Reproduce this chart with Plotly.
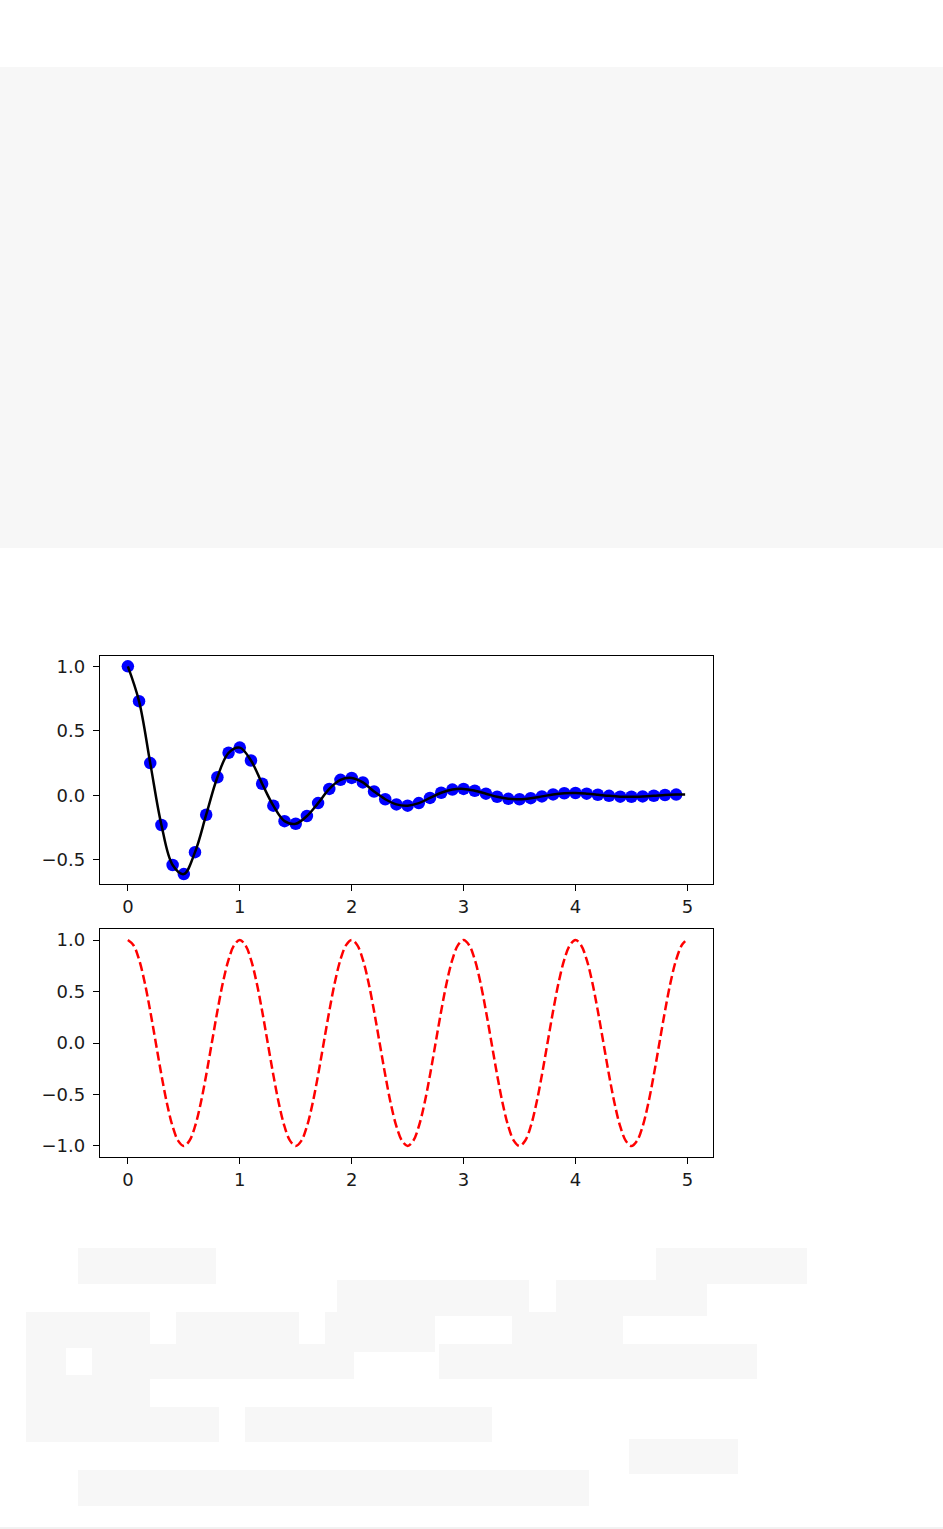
import plotly.graph_objects as go

# damped oscillation, sampled every 0.1 (dots)
T_DOTS = [0.0, 0.1, 0.2, 0.3, 0.4, 0.5, 0.6, 0.7, 0.8, 0.9,
          1.0, 1.1, 1.2, 1.3, 1.4, 1.5, 1.6, 1.7, 1.8, 1.9,
          2.0, 2.1, 2.2, 2.3, 2.4, 2.5, 2.6, 2.7, 2.8, 2.9,
          3.0, 3.1, 3.2, 3.3, 3.4, 3.5, 3.6, 3.7, 3.8, 3.9,
          4.0, 4.1, 4.2, 4.3, 4.4, 4.5, 4.6, 4.7, 4.8, 4.9]
F_DOTS = [1.0, 0.73, 0.25, -0.23, -0.54, -0.61, -0.44, -0.15, 0.14, 0.33,
          0.37, 0.27, 0.09, -0.08, -0.20, -0.22, -0.16, -0.06, 0.05, 0.12,
          0.135, 0.10, 0.03, -0.03, -0.07, -0.08, -0.06, -0.02, 0.02, 0.045,
          0.05, 0.036, 0.013, -0.011, -0.027, -0.03, -0.022, -0.008, 0.007, 0.016,
          0.018, 0.013, 0.005, -0.004, -0.01, -0.011, -0.008, -0.003, 0.003, 0.006]

# the black line runs a little past the last dot
T_LINE = T_DOTS + [4.98]
F_LINE = F_DOTS + [0.007]

# cosine (lower panel), read every 0.05
T_COS = [0.0, 0.05, 0.1, 0.15, 0.2, 0.25, 0.3, 0.35, 0.4, 0.45,
         0.5, 0.55, 0.6, 0.65, 0.7, 0.75, 0.8, 0.85, 0.9, 0.95,
         1.0, 1.05, 1.1, 1.15, 1.2, 1.25, 1.3, 1.35, 1.4, 1.45,
         1.5, 1.55, 1.6, 1.65, 1.7, 1.75, 1.8, 1.85, 1.9, 1.95,
         2.0, 2.05, 2.1, 2.15, 2.2, 2.25, 2.3, 2.35, 2.4, 2.45,
         2.5, 2.55, 2.6, 2.65, 2.7, 2.75, 2.8, 2.85, 2.9, 2.95,
         3.0, 3.05, 3.1, 3.15, 3.2, 3.25, 3.3, 3.35, 3.4, 3.45,
         3.5, 3.55, 3.6, 3.65, 3.7, 3.75, 3.8, 3.85, 3.9, 3.95,
         4.0, 4.05, 4.1, 4.15, 4.2, 4.25, 4.3, 4.35, 4.4, 4.45,
         4.5, 4.55, 4.6, 4.65, 4.7, 4.75, 4.8, 4.85, 4.9, 4.95, 4.98]
COS_PERIOD = [1.0, 0.95, 0.81, 0.59, 0.31, 0.0, -0.31, -0.59, -0.81, -0.95,
              -1.0, -0.95, -0.81, -0.59, -0.31, 0.0, 0.31, 0.59, 0.81, 0.95]
F_COS = COS_PERIOD * 5 + [0.99]

X_TICKS = [0, 1, 2, 3, 4, 5]
Y_TICKS_TOP = [-0.5, 0.0, 0.5, 1.0]
Y_TICKS_BOT = [-1.0, -0.5, 0.0, 0.5, 1.0]

W, H = 943, 1529
FONT = "DejaVu Sans"


def fmt(v):
    return f"{v:.1f}".replace("-", "\u2212")


def px_x(x):
    return x / W


def px_y(y):
    return 1 - y / H


fig = go.Figure()

fig.add_trace(go.Scatter(
    x=T_DOTS, y=F_DOTS, mode="markers",
    marker=dict(color="#0000ff", size=12.5, line=dict(width=0)),
    xaxis="x", yaxis="y", hoverinfo="skip",
))
fig.add_trace(go.Scatter(
    x=T_LINE, y=F_LINE, mode="lines",
    line=dict(color="black", width=2.5, shape="spline"),
    xaxis="x", yaxis="y", hoverinfo="skip",
))
fig.add_trace(go.Scatter(
    x=T_COS, y=F_COS, mode="lines",
    line=dict(color="#ff0000", width=2.5, shape="spline", dash="9px,4px"),
    xaxis="x2", yaxis="y2", hoverinfo="skip",
))

axis_common = dict(
    showgrid=False, zeroline=False, showline=True, linecolor="black",
    linewidth=1.3, mirror=True, ticks="outside", ticklen=6, tickwidth=1.3,
    tickcolor="black", tickfont=dict(family=FONT, size=18, color="#1a1a1a"),
)

fig.update_layout(
    width=W, height=H,
    margin=dict(l=0, r=0, t=0, b=0),
    paper_bgcolor="white", plot_bgcolor="white",
    showlegend=False,
    xaxis=dict(domain=[px_x(100), px_x(713)], range=[-0.249, 5.229],
               tickvals=X_TICKS, ticktext=[str(v) for v in X_TICKS],
               anchor="y", **axis_common),
    yaxis=dict(domain=[px_y(884), px_y(656)], range=[-0.687, 1.080],
               tickvals=Y_TICKS_TOP, ticktext=[fmt(v) for v in Y_TICKS_TOP],
               anchor="x", ticklabelstandoff=4, **axis_common),
    xaxis2=dict(domain=[px_x(100), px_x(713)], range=[-0.249, 5.229],
                tickvals=X_TICKS, ticktext=[str(v) for v in X_TICKS],
                anchor="y2", **axis_common),
    yaxis2=dict(domain=[px_y(1157), px_y(929)], range=[-1.107, 1.107],
                tickvals=Y_TICKS_BOT, ticktext=[fmt(v) for v in Y_TICKS_BOT],
                anchor="x2", ticklabelstandoff=4, **axis_common),
)

# light grey page placeholders around the figure
BLOCK = "#f7f7f7"
blocks = [
    (0, 67, 943, 548),
    (78, 1248, 216, 1284), (656, 1248, 807, 1284),
    (337, 1280, 529, 1316), (556, 1280, 707, 1316),
    (26, 1312, 150, 1348), (176, 1312, 299, 1348), (325, 1312, 435, 1352),
    (512, 1312, 623, 1348),
    (26, 1344, 354, 1379), (439, 1344, 757, 1379),
    (26, 1379, 150, 1410),
    (26, 1407, 219, 1442), (245, 1407, 492, 1442),
    (629, 1439, 738, 1474),
    (78, 1470, 589, 1506),
]
for x0, y0, x1, y1 in blocks:
    fig.add_shape(type="rect", xref="paper", yref="paper",
                  x0=px_x(x0), x1=px_x(x1), y0=px_y(y1), y1=px_y(y0),
                  fillcolor=BLOCK, line=dict(width=0), layer="below")
# small white hole in the block pattern
fig.add_shape(type="rect", xref="paper", yref="paper",
              x0=px_x(66), x1=px_x(92), y0=px_y(1375), y1=px_y(1348),
              fillcolor="white", line=dict(width=0), layer="below")
fig.add_shape(type="line", xref="paper", yref="paper",
              x0=0, x1=1, y0=px_y(1528), y1=px_y(1528),
              line=dict(color="#e4e4e4", width=1), layer="below")

# drop the browser's default body margin so the figure sits at 0,0
fig.write_html("out.html", config={"displayModeBar": False},
               post_script="document.body.style.margin='0';")
